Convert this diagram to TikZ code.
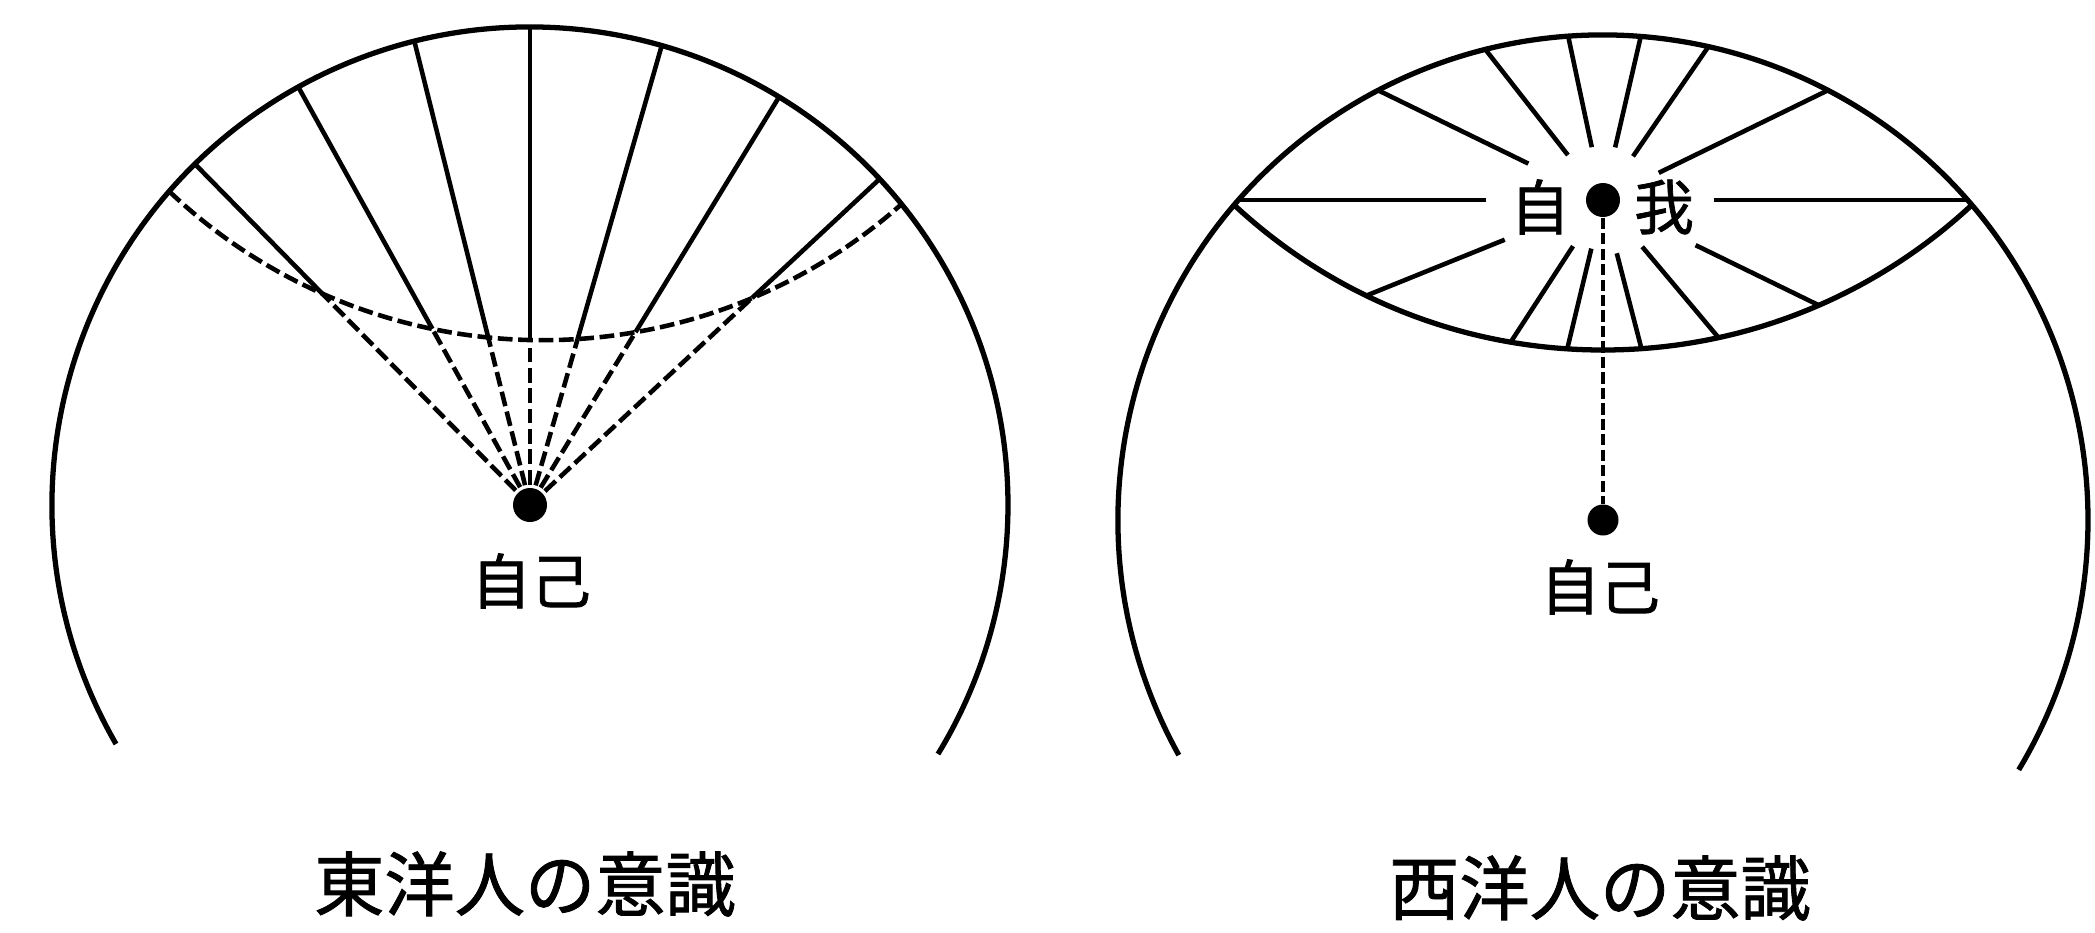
\documentclass[tikz,border=0pt]{standalone}
\usepackage{fontspec}
\newfontfamily\jpfont{Noto Sans CJK JP}[FakeBold=1.2]
\usetikzlibrary{positioning}

\begin{document}
\begin{tikzpicture}[
  rim/.style={line width=1.5pt},
  ray/.style={line width=1.3pt},
  dray/.style={line width=1.3pt,dash pattern=on 4.2pt off 1.6pt},
  fdray/.style={line width=1.3pt,dash pattern=on 3.2pt off 1.2pt},
  spot/.style={circle,fill=black,inner sep=0pt,minimum size=#1},
  lbl/.style={font=\jpfont\fontsize{17}{17}\selectfont,inner sep=0pt},
  captext/.style={font=\jpfont\fontsize{20}{20}\selectfont,inner sep=0pt}
]
\useasboundingbox (0,0) rectangle (20.95,-9.32);
% left circle: eastern consciousness
\coordinate (oL) at (5.30,-5.05);
\begin{scope}[shift={(oL)}]
\draw[rim] (210:4.78) arc[start angle=210,end angle=-31.4,radius=4.78];
\draw[dray] (139:4.78) arc[start angle=226.52,end angle=311.47,radius=5.4228];
\foreach \a/\t in {134.5/2.967,119/2.014,104/1.727,90/1.650,74/1.727,58.6/2.026,43/3.035}{
  \draw[ray] (\a:\t) -- (\a:4.78);
  \draw[dray] (0,0) -- (\a:\t);
}
\end{scope}
\node[spot=0.34cm] (selfL) at (oL) {};
\node[lbl] (selfLtxt) at (5.31,-5.81) {自己};
\node[captext] (capL) at (5.25,-8.84) {東洋人の意識};
% right circle: western consciousness
\coordinate (oR) at (16.03,-5.20);
\begin{scope}[shift={(oR)}]
\draw[rim] (209:4.85) arc[start angle=209,end angle=-31,radius=4.85];
\begin{scope}
\clip (0,0) circle (4.85);
\draw[rim] (0,7.115) circle (5.415);
\clip (0,7.115) circle (5.415);
\begin{scope}[shift={(0,3.2)}]
\foreach \a/\d in {0/1.11,26/0.62,55.5/0.53,77/0.54,102/0.54,128/0.57,154/0.83,
  180/1.17,202/1.06,237/0.55,256.5/0.50,284.5/0.55,310/0.61,334/1.03}{
  \draw[ray] (\a:\d) -- (\a:6);
}
\end{scope}
\end{scope}
\end{scope}
\node[spot=0.34cm] (ego) at (16.03,-2.00) {};
\node[spot=0.31cm] (selfR) at (oR) {};
\draw[fdray] (ego) -- (selfR);
\node[lbl] (egoA) at (15.40,-2.07) {自};
\node[lbl] (egoB) at (16.64,-2.07) {我};
\node[lbl] (selfRtxt) at (16.00,-5.87) {自己};
\node[captext] (capR) at (16.00,-8.88) {西洋人の意識};
\end{tikzpicture}
\end{document}
